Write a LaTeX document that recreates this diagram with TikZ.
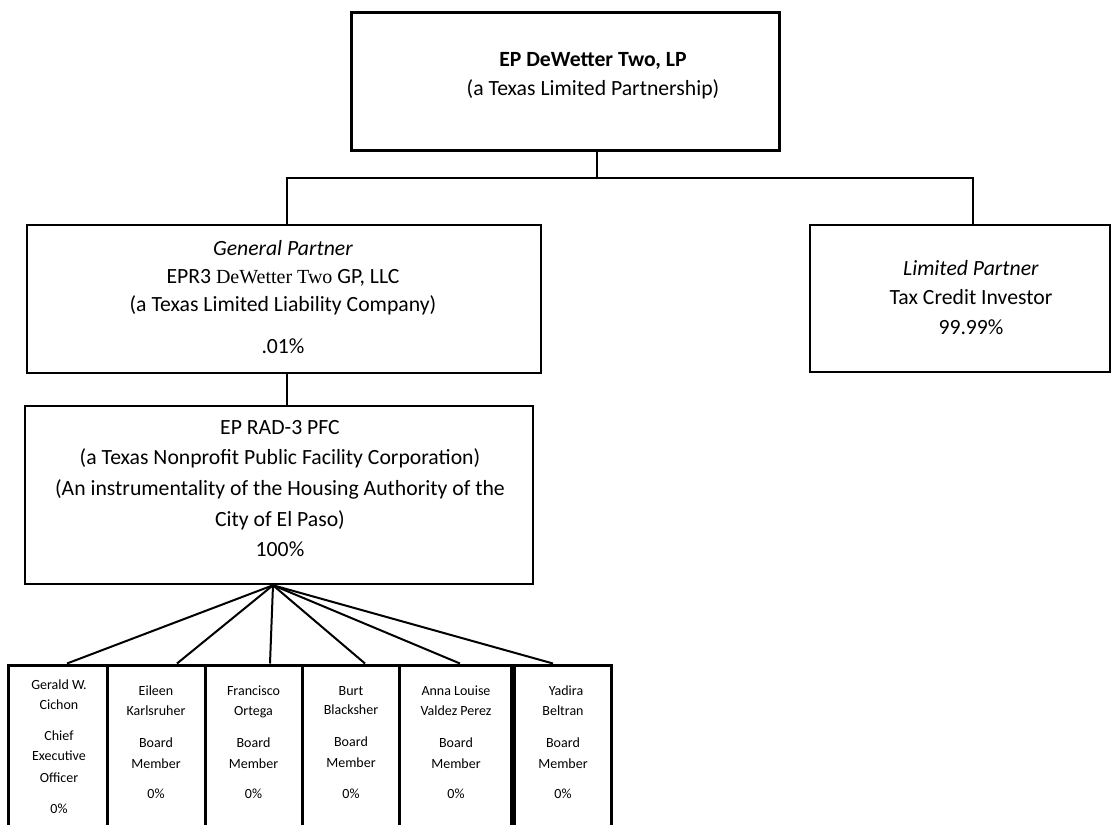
\documentclass[tikz,border=0pt]{standalone}
\usepackage{fontspec}
\setmainfont{Carlito}
\newfontfamily\serifpart{Liberation Serif}
\begin{document}
\begin{tikzpicture}[x=1pt,y=-1pt,
  box/.style={draw, line width=2.5pt, inner sep=0, fill=white},
  topbox/.style={box, line width=3pt},
  member/.style={draw, line width=3pt, inner sep=0, minimum height=180pt},
  lbl/.style={align=center, inner sep=0, font=\fontsize{21.7}{29.5}\selectfont},
  small/.style={align=center, inner sep=0, font=\fontsize{14}{19.5}\selectfont},
  conn/.style={line width=1.5pt},
  fan/.style={line width=2pt}]
\clip (0,0) rectangle (1120,825);
\fill[white] (0,0) rectangle (1120,825);

% boxes
\node[topbox, minimum width=428pt, minimum height=138pt] (top) at (565,81) {};
\node[box, minimum width=514pt, minimum height=148pt] (gp) at (284,299) {};
\node[box, minimum width=300pt, minimum height=147pt] (lp) at (960,298.5) {};
\node[box, minimum width=508pt, minimum height=178pt] (pfc) at (279,495) {};

\node[member, minimum width=99pt] (m1) at (57.5,755) {};
\node[member, minimum width=98pt] (m2) at (156,755) {};
\node[member, minimum width=97pt] (m3) at (253.5,755) {};
\node[member, minimum width=97pt] (m4) at (350.5,755) {};
\node[member, minimum width=112pt] (m5) at (455,755) {};
\node[member, minimum width=97pt] (m6) at (562.5,755) {};

% texts
\node[lbl] (ttop) at (593,75.5) {\textbf{EP DeWetter Two, LP}\\(a Texas Limited Partnership)};
\node[lbl, font=\fontsize{21.7}{28.2}\selectfont] (tgp) at (283,297) {\textit{General Partner}\\EPR3 {\serifpart\fontsize{20}{28.2}\selectfont DeWetter Two} GP, LLC\\(a Texas Limited Liability Company)\\[13.5pt].01\%};
\node[lbl] (tlp) at (971,297.5) {\textit{Limited Partner}\\Tax Credit Investor\\99.99\%};
\node[lbl, font=\fontsize{21.7}{30.7}\selectfont] (tpfc) at (280,488.5) {EP RAD-3 PFC\\(a Texas Nonprofit Public Facility Corporation)\\(An instrumentality of the Housing Authority of the\\City of El Paso)\\100\%};

\node[small] (t1) at (59,746.5) {Gerald W.\\Cichon\\[12pt]Chief\\Executive\\[2.5pt]Officer\\[11.5pt]0\%};
\node[small] (t2) at (156,742.5) {Eileen\\Karlsruher\\[12.5pt]Board\\[1.5pt]Member\\[11pt]0\%};
\node[small] (t3) at (253.5,742.5) {Francisco\\Ortega\\[12.5pt]Board\\[1.5pt]Member\\[11pt]0\%};
\node[small] (t4) at (351,742.5) {Burt\\Blacksher\\[12.5pt]Board\\[1.5pt]Member\\[11pt]0\%};
\node[small] (t5) at (456,742.5) {Anna Louise\\Valdez Perez\\[12.5pt]Board\\[1.5pt]Member\\[11pt]0\%};
\node[small] (t6) at (563,742.5) {\hspace*{6pt}Yadira\\Beltran\hspace*{16pt}\\[12.5pt]Board\\[1.5pt]Member\\[11pt]0\%};

% connectors
\coordinate (hub) at (597,178);
\draw[conn] ([xshift=32pt]top.south) -- (hub);
\draw[conn] ([xshift=3pt]gp.north) |- (hub) -| ([xshift=13pt]lp.north);
\draw[conn] ([xshift=3pt]gp.south) -- ([xshift=3pt]gp.south |- pfc.north);

\coordinate (fo) at ([xshift=-6pt]pfc.south);
\draw[fan] (fo) -- ([xshift=9.5pt]m1.north);
\draw[fan] (fo) -- ([xshift=21pt]m2.north);
\draw[fan] (fo) -- ([xshift=16.5pt]m3.north);
\draw[fan] (fo) -- ([xshift=14.5pt]m4.north);
\draw[fan] (fo) -- ([xshift=5pt]m5.north);
\draw[fan] (fo) -- ([xshift=-9.5pt]m6.north);
\end{tikzpicture}
\end{document}
